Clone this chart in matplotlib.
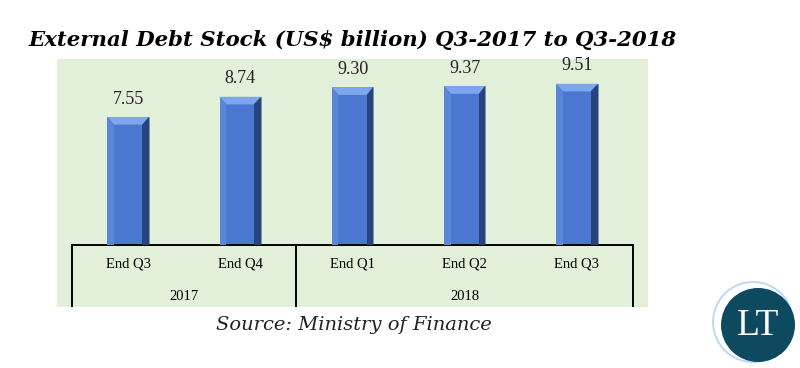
import numpy as np
import matplotlib.pyplot as plt
from matplotlib.patches import Rectangle, Polygon, Circle
import matplotlib.transforms as mtransforms

# ---- data ----
quarters = ["End Q3", "End Q4", "End Q1", "End Q2", "End Q3"]
debt = [7.55, 8.74, 9.30, 9.37, 9.51]
years = ["2017", "2018"]
year_spans = [(0, 1), (2, 4)]   # first/last quarter index for each year

W, H = 800, 368
fig = plt.figure(figsize=(W / 100, H / 100), dpi=100)
fig.patch.set_facecolor("white")

def fx(px):
    return px / W

def fy(py):
    return 1 - py / H

# green chart area
fig.patches.append(Rectangle((fx(57), fy(307)), fx(648) - fx(57), fy(59) - fy(307),
                             transform=fig.transFigure, facecolor="#e2efd9",
                             edgecolor="none", zorder=-5))

ax = fig.add_axes([fx(72), fy(245), fx(633) - fx(72), fy(59) - fy(245)])
ax.set_facecolor("none")
x = np.arange(len(debt))
bw = 0.37
ax.set_xlim(-0.5, len(debt) - 0.5)
ax.set_ylim(0, 10.97)

# bars with a simple bevel look
bars = ax.bar(x, debt, width=bw, color="#4a78d1", edgecolor="#7f8ea8", linewidth=0.6, zorder=2)
bx = 0.06   # bevel width in data units
by = 0.45
for b in bars:
    x0, x1 = b.get_x(), b.get_x() + b.get_width()
    y0, y1 = 0, b.get_height()
    ax.add_patch(Polygon([(x0, y1), (x1, y1), (x1 - bx, y1 - by), (x0 + bx, y1 - by)],
                         closed=True, facecolor="#7ea6ee", edgecolor="none", zorder=3))
    ax.add_patch(Polygon([(x1, y1), (x1, y0), (x1 - bx, y0), (x1 - bx, y1 - by)],
                         closed=True, facecolor="#26437c", edgecolor="none", zorder=3))
    ax.add_patch(Polygon([(x0, y1), (x0, y0), (x0 + bx, y0), (x0 + bx, y1 - by)],
                         closed=True, facecolor="#5a86d9", edgecolor="none", zorder=3))
    ax.text(b.get_x() + b.get_width() / 2, y1 + 0.55, f"{y1:.2f}", ha="center", va="bottom",
            fontsize=13, family="Liberation Serif", color="#222222")

for s in ["left", "right", "top"]:
    ax.spines[s].set_visible(False)
ax.spines["bottom"].set_linewidth(1.4)
ax.set_yticks([])
ax.set_xticks(x)
ax.set_xticklabels(quarters, fontsize=10.5, family="Liberation Serif")
ax.tick_params(axis="x", length=0, pad=9)

# year grouping
trans = mtransforms.blended_transform_factory(ax.transData, ax.transAxes)
bottom = -(306 - 245) / (245 - 59)
bounds = [-0.5] + [s[1] + 0.5 for s in year_spans]
for b in bounds:
    ax.plot([b, b], [0, bottom], color="black", lw=1.4, transform=trans, clip_on=False)
for yr, (a, c) in zip(years, year_spans):
    ax.text((a + c) / 2, -(296 - 245) / (245 - 59), yr, transform=trans, ha="center",
            va="center", fontsize=10.5, family="Liberation Serif")

# titles
fig.text(fx(353), fy(40), "External Debt Stock (US$ billion) Q3-2017 to Q3-2018",
         ha="center", va="center", fontsize=15.3, family="DejaVu Serif",
         weight="bold", style="italic")
fig.text(fx(354), fy(325), "Source: Ministry of Finance", ha="center", va="center",
         fontsize=14, family="DejaVu Serif", style="italic", color="#222222")

# LT logo
lax = fig.add_axes([fx(705), fy(368), fx(100), fy(0) - fy(100)])
lax.set_xlim(705, 805)
lax.set_ylim(368 + 0, 268)
lax.set_aspect("equal")
lax.axis("off")
lax.add_patch(Circle((753, 322), 40, facecolor="white", edgecolor="#b5d8f3", lw=1.3))
lax.add_patch(Circle((758, 325), 37, facecolor="#0d4a5f", edgecolor="none"))
lax.text(758, 326, "LT", ha="center", va="center", fontsize=27, color="white",
         family="Liberation Serif")

fig.savefig("out.png", dpi=100)
